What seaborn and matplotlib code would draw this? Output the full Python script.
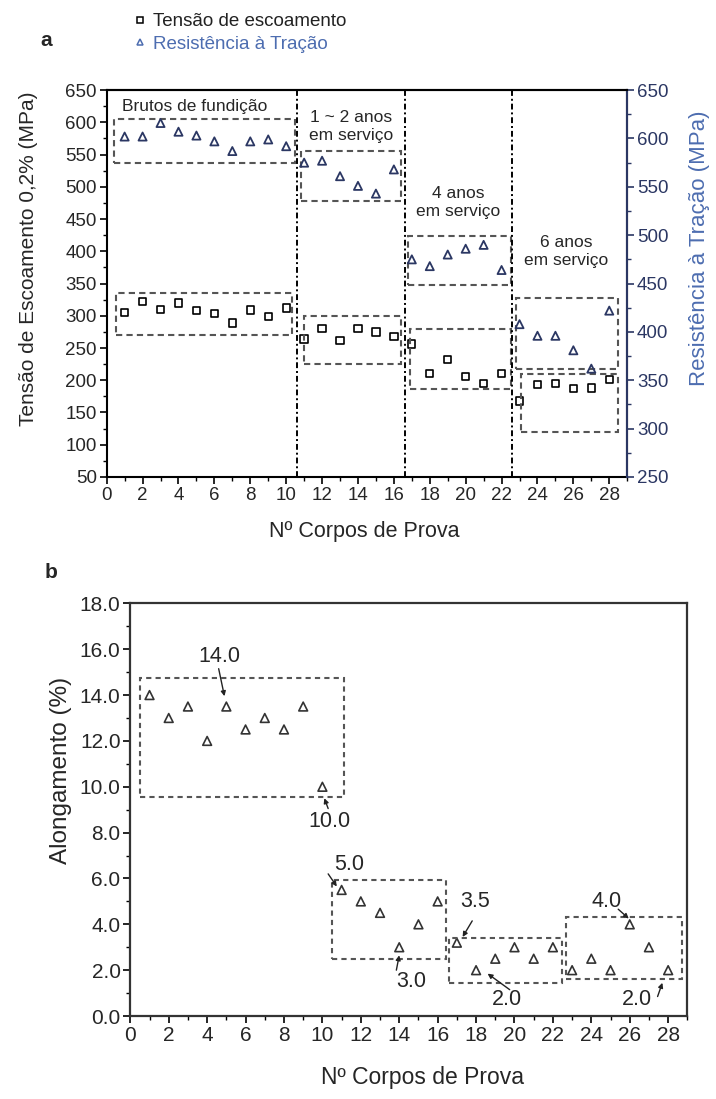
import numpy as np
import pandas as pd
import matplotlib
matplotlib.use("Agg")
import matplotlib.pyplot as plt
from matplotlib.patches import Rectangle
from matplotlib.ticker import MultipleLocator, FormatStrFormatter
from matplotlib.lines import Line2D
import seaborn as sns

# data
corpos = [1, 2, 3, 4, 5, 6, 7, 8, 9, 10, 11, 12, 13, 14,
          15, 16, 17, 18, 19, 20, 21, 22, 23, 24, 25, 26, 27, 28]
tensao = [305, 322, 310, 320, 308, 304, 289, 309, 299, 312,
          264, 280, 262, 280, 275, 268,
          256, 210, 232, 206, 195, 210,
          168, 193, 195, 187, 188, 201]
resistencia = [602, 602, 616, 607, 603, 597, 587, 597, 599, 592,
               575, 577, 561, 551, 543, 568,
               475, 468, 480, 486, 490, 464,
               408, 396, 396, 381, 362, 422]
alongamento = [14.0, 13.0, 13.5, 12.0, 13.5, 12.5, 13.0, 12.5, 13.5, 10.0,
               5.5, 5.0, 4.5, 3.0, 4.0, 5.0,
               3.2, 2.0, 2.5, 3.0, 2.5, 3.0,
               2.0, 2.5, 2.0, 4.0, 3.0, 2.0]
grupos = ["Brutos de fundição", "1 ~ 2 anos\nem serviço",
          "4 anos\nem serviço", "6 anos\nem serviço"]
rotulos_b = ["14.0", "10.0", "5.0", "3.0", "3.5", "2.0", "4.0", "2.0"]

sns.set_theme(style="white")
plt.rcParams['font.family'] = ['Liberation Sans', 'DejaVu Sans']

navy = "#2b3763"
azul = "#4d6db0"
cinza = "#555555"

fig = plt.figure(figsize=(7.16, 10.99), dpi=100)

# ---------------- panel a ----------------
ax = fig.add_axes([0.149, 0.566, 0.727, 0.352])
sns.scatterplot(x=corpos, y=tensao, ax=ax, marker="s", s=28,
                facecolor="none", edgecolor="black", linewidth=1.2)
ax.set_xlim(0, 29)
ax.set_ylim(50, 650)
ax.xaxis.set_major_locator(MultipleLocator(2))
ax.xaxis.set_minor_locator(MultipleLocator(1))
ax.yaxis.set_major_locator(MultipleLocator(50))
ax.yaxis.set_minor_locator(MultipleLocator(25))
ax.tick_params(axis="both", which="major", direction="out", length=5, width=1.2,
               labelsize=13.5, left=True, bottom=True, color="black", pad=2)
ax.tick_params(axis="both", which="minor", direction="out", length=3, width=1,
               left=True, bottom=True, color="black")
ax.set_xlabel("Nº Corpos de Prova", fontsize=15.5)
ax.set_ylabel("Tensão de Escoamento 0,2% (MPa)", fontsize=15)
ax.xaxis.set_label_coords(0.494, -0.114)
ax.yaxis.set_label_coords(-0.131, 0.565)
for s in ax.spines.values():
    s.set_color("black")
    s.set_linewidth(1.5)

ax2 = ax.twinx()
sns.scatterplot(x=corpos, y=resistencia, ax=ax2, marker="^", s=34,
                facecolor="none", edgecolor=navy, linewidth=1.3)
ax2.set_ylim(250, 650)
ax2.yaxis.set_major_locator(MultipleLocator(50))
ax2.yaxis.set_minor_locator(MultipleLocator(25))
ax2.tick_params(axis="y", which="major", direction="out", length=5, width=1.2,
                labelsize=13.5, right=True, color=navy, labelcolor=navy, pad=2)
ax2.tick_params(axis="y", which="minor", direction="out", length=3, width=1,
                right=True, color=navy)
ax2.set_ylabel("Resistência à Tração (MPa)", fontsize=16, color=azul)
ax2.yaxis.set_label_coords(1.118, 0.59)
ax2.spines["right"].set_color(navy)
ax2.spines["right"].set_linewidth(1.5)
ax2.spines["top"].set_linewidth(1.5)
ax2.spines["top"].set_color("black")
ax2.spines["left"].set_visible(False)
ax2.spines["bottom"].set_visible(False)

# vertical separators
for xv in [10.6, 16.6, 22.6]:
    ax.axvline(xv, color="black", lw=1.4, ls=(0, (3, 1.5, 1, 1.5)))

# dashed group boxes (left-axis coordinates)
caixas_a = [(0.4, 537, 10.1, 68), (0.5, 270, 9.8, 66),
            (10.8, 478, 5.6, 77), (11.0, 225, 5.4, 75),
            (16.8, 348, 5.7, 76), (16.9, 186, 5.6, 94),
            (22.8, 217, 5.7, 110), (23.1, 119, 5.4, 90)]
for x0, y0, w, h in caixas_a:
    ax.add_patch(Rectangle((x0, y0), w, h, fill=False, ec=cinza,
                           lw=1.5, ls=(0, (3, 2))))

ax.text(0.85, 625, grupos[0], fontsize=12.5, va="center", ha="left")
ax.text(13.6, 593, grupos[1], fontsize=12.5, va="center", ha="center", linespacing=1.25)
ax.text(19.6, 475, grupos[2], fontsize=12.5, va="center", ha="center", linespacing=1.25)
ax.text(25.6, 399, grupos[3], fontsize=12.5, va="center", ha="center", linespacing=1.25)

handles = [Line2D([], [], ls="none", marker="s", ms=4.5, mfc="none", mec="black", mew=1.1),
           Line2D([], [], ls="none", marker="^", ms=5, mfc="none", mec=azul, mew=1.1)]
fig.legend(handles, ["Tensão de escoamento", "Resistência à Tração"],
           loc="upper left", bbox_to_anchor=(0.178, 0.995), frameon=False,
           fontsize=13.5, handlelength=0.5, handletextpad=0.45, labelspacing=0.3,
           labelcolor=["#222222", azul], borderaxespad=0)
fig.text(0.056, 0.963, "a", fontsize=15, fontweight="bold", va="center")

# ---------------- panel b ----------------
bx = fig.add_axes([0.182, 0.0755, 0.778, 0.3755])
sns.scatterplot(x=corpos, y=alongamento, ax=bx, marker="^", s=40,
                facecolor="none", edgecolor="#333333", linewidth=1.2)
bx.set_xlim(0, 29)
bx.set_ylim(0, 18)
bx.xaxis.set_major_locator(MultipleLocator(2))
bx.xaxis.set_minor_locator(MultipleLocator(1))
bx.yaxis.set_major_locator(MultipleLocator(2))
bx.yaxis.set_minor_locator(MultipleLocator(1))
bx.yaxis.set_major_formatter(FormatStrFormatter("%.1f"))
bx.tick_params(axis="both", which="major", direction="out", length=5, width=1.2,
               labelsize=15, left=True, bottom=True, color="black", pad=2)
bx.tick_params(axis="both", which="minor", direction="out", length=3, width=1,
               left=True, bottom=True, color="black")
bx.set_xlabel("Nº Corpos de Prova", fontsize=16.5)
bx.set_ylabel("Alongamento (%)", fontsize=17.5)
bx.xaxis.set_label_coords(0.524, -0.121)
bx.yaxis.set_label_coords(-0.104, 0.595)
for s in bx.spines.values():
    s.set_color("#333333")
    s.set_linewidth(1.6)

caixas_b = [(0.5, 9.55, 10.6, 5.2), (10.5, 2.5, 5.95, 3.45),
            (16.6, 1.45, 5.85, 1.95), (22.7, 1.6, 6.0, 2.7)]
for x0, y0, w, h in caixas_b:
    bx.add_patch(Rectangle((x0, y0), w, h, fill=False, ec=cinza,
                           lw=1.5, ls=(0, (2.5, 2))))

# label position, arrow start, arrow end
pos_txt = [(4.65, 15.7), (10.35, 8.5), (11.4, 6.6), (14.6, 1.5),
           (17.95, 5.0), (19.6, 0.7), (24.8, 5.0), (26.4, 0.7)]
setas = [((4.6, 15.15), (4.9, 13.95)), ((10.3, 9.05), (10.1, 9.5)),
         ((10.3, 6.2), (10.75, 5.65)), ((13.85, 2.0), (14.0, 2.65)),
         ((17.8, 4.15), (17.3, 3.45)), ((19.75, 1.15), (18.6, 1.85)),
         ((25.4, 4.66), (25.95, 4.25)), ((27.45, 0.85), (27.7, 1.45))]
for txt, xy_t, (a0, a1) in zip(rotulos_b, pos_txt, setas):
    bx.text(xy_t[0], xy_t[1], txt, fontsize=15.5, ha="center", va="center")
    bx.annotate("", xy=a1, xytext=a0,
                arrowprops=dict(arrowstyle="-|>", color="#222222", lw=1.0,
                                mutation_scale=7, shrinkA=0, shrinkB=0))
fig.text(0.062, 0.479, "b", fontsize=15, fontweight="bold", va="center")

fig.savefig("out.png", dpi=100)
